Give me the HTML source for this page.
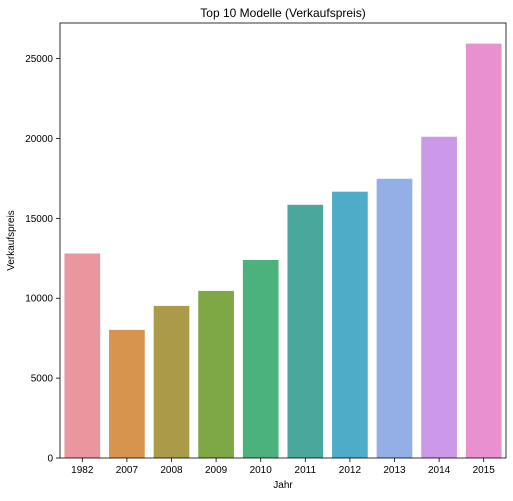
<!DOCTYPE html>
<html><head><meta charset="utf-8"><style>
body{margin:0;background:#fff;font-family:"Liberation Sans",sans-serif;}
svg text{font-family:"Liberation Sans",sans-serif;fill:#000;}
</style></head><body>
<svg id="chart" width="513" height="496"></svg>
<script>
const categories=["1982","2007","2008","2009","2010","2011","2012","2013","2014","2015"];
const values=[12800,8020,9520,10460,12400,15850,16670,17480,20110,25940];
const colors=["#e9969f","#d6944f","#ab9b48","#7ea846","#4cb27d","#49a89b","#4dacc7","#94aee6","#cc99e8","#e990ce"];
const yTicks=[0,5000,10000,15000,20000,25000];
const L=60,R=506,T=23,B=458;
const ymax=27230;
const y=v=>B-(v/ymax)*(B-T);
const step=(R-L)/categories.length;
const x=i=>L+step*(i+0.5);
const ns="http://www.w3.org/2000/svg";
const svg=document.getElementById('chart');
function mk(tag,attrs,parent){const e=document.createElementNS(ns,tag);for(const k in attrs)e.setAttribute(k,attrs[k]);(parent||svg).appendChild(e);return e;}
categories.forEach((c,i)=>{
  const bw=step*0.8;
  const r=mk('rect',{x:x(i)-bw/2,y:y(values[i]),width:bw,height:B-y(values[i]),fill:colors[i]});
  
  
  mk('line',{x1:x(i),x2:x(i),y1:B,y2:B+4,stroke:'#000','stroke-width':0.8});
  const t=mk('text',{x:x(i),y:B+15,'font-size':10,'text-anchor':'middle'});
  t.textContent=c;
  
  
});
yTicks.forEach(v=>{
  mk('line',{x1:L-4,x2:L,y1:y(v),y2:y(v),stroke:'#000','stroke-width':0.8});
  const t=mk('text',{x:L-7,y:y(v)+3.5,'font-size':10,'text-anchor':'end'});
  t.textContent=v;
  
  
});
const f=mk('rect',{x:L,y:T,width:R-L,height:B-T,fill:'none',stroke:'#000','stroke-width':0.8});


const ti=mk('text',{x:(L+R)/2,y:17,'font-size':12,'text-anchor':'middle'});
ti.textContent='Top 10 Modelle (Verkaufspreis)';


const xl=mk('text',{x:(L+R)/2,y:488,'font-size':10,'text-anchor':'middle'});
xl.textContent='Jahr';


const yl=mk('text',{x:14,y:(T+B)/2,'font-size':10,'text-anchor':'middle',transform:'rotate(-90 14 '+((T+B)/2)+')'});
yl.textContent='Verkaufspreis';


</script>
</body></html>
